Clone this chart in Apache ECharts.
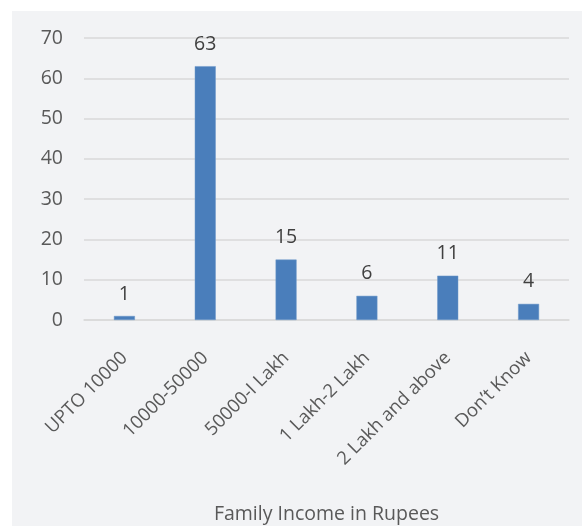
<!DOCTYPE html>
<html>
<head>
<meta charset="utf-8">
<script src="https://cdn.jsdelivr.net/npm/echarts@6/dist/echarts.min.js"></script>
<style>
  html, body { margin: 0; padding: 0; background: #ffffff; }
  #chart { position: absolute; left: 12px; top: 11px; width: 570px; height: 515px; background: #f2f3f5; }
</style>
</head>
<body>
<div id="chart"></div>
<script>
// data
var categories = ['UPTO 10000', '10000-50000', '50000-I Lakh', '1 Lakh-2 Lakh', '2 Lakh and above', 'Don\u2019t Know'];
var counts = [1, 63, 15, 6, 11, 4];
var yTicks = [0, 10, 20, 30, 40, 50, 60, 70];

var chart = echarts.init(document.getElementById('chart'));

var option = {
    animation: false,
    textStyle: { fontFamily: 'Open Sans' },
    grid: { left: 72, right: 13, top: 27, bottom: 206, containLabel: false, outerBoundsMode: 'none' },
    xAxis: {
        type: 'category',
        data: categories,
        name: 'Family Income in Rupees',
        nameLocation: 'middle',
        nameGap: 184,
        nameTextStyle: { color: '#595959', fontSize: 19.5 },
        axisLine: { show: true, lineStyle: { color: '#d9d9d9', width: 1.5 } },
        axisTick: { show: false },
        axisLabel: {
            rotate: 45,
            interval: 0,
            margin: 35,
            color: '#595959',
            fontSize: 18.5
        }
    },
    yAxis: {
        type: 'value',
        min: yTicks[0],
        max: yTicks[yTicks.length - 1],
        interval: 10,
        axisLine: { show: false },
        axisTick: { show: false },
        axisLabel: { color: '#595959', fontSize: 19.5, margin: 21 },
        splitLine: { lineStyle: { color: '#d9d9d9', width: 1.5 } }
    },
    series: [{
        type: 'bar',
        data: counts,
        barWidth: 21,
        itemStyle: { color: '#4a7ebb', borderColor: '#6f98c9', borderWidth: 0.5 },
        label: {
            show: true,
            position: 'top',
            distance: 12,
            color: '#404040',
            fontSize: 19.5
        }
    }]
};

chart.setOption(option);
</script>
</body>
</html>
